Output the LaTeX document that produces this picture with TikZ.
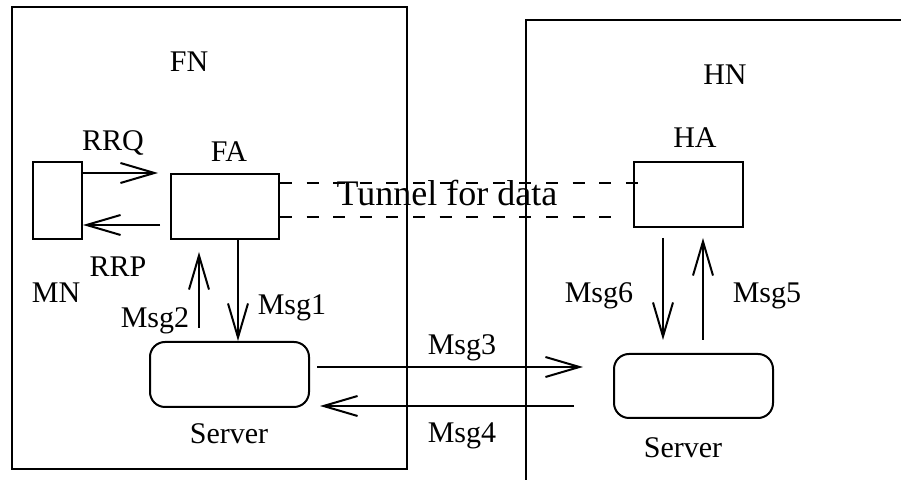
\documentclass[tikz,border=0pt]{standalone}
\usepackage{fontspec}
\setmainfont{Liberation Serif}
\usetikzlibrary{arrows.meta}
\begin{document}
\begin{tikzpicture}[x=0.5pt,y=-0.5pt,
  box/.style={draw, line width=1pt, inner sep=0pt, anchor=north west},
  srv/.style={box, rounded corners=7.5pt},
  lbl/.style={font=\fontsize{15}{18}\selectfont, inner sep=0pt, anchor=base},
  msg/.style={line width=1pt, -{Straight Barb[length=17pt,width=10pt,line width=1pt]}},
  tunnel/.style={line width=1pt, dash pattern=on 6pt off 7.3pt},
  region/.style={draw, line width=1.1pt}]
\useasboundingbox (0,0) rectangle (901,480);

% network regions
\node[box, region, minimum width=197.5pt, minimum height=231pt] (FNbox) at (11,6) {};
\begin{scope}
  \clip (0,0) rectangle (901,480);
  \node[box, region, minimum width=200pt, minimum height=240pt] (HNbox) at (525,19) {};
\end{scope}

% entities
\node[box, minimum width=24.5pt, minimum height=38.5pt] (MN) at (32,161) {};
\node[box, minimum width=54pt, minimum height=32.5pt] (FA) at (170,173) {};
\node[box, minimum width=54.5pt, minimum height=32.5pt] (HA) at (633,161) {};
\node[srv, minimum width=79.5pt, minimum height=32.5pt] (S1) at (149,341) {};
\node[srv, minimum width=79.5pt, minimum height=32pt] (S2) at (613,353) {};

% labels
\node[lbl] (lFN) at (189,72) {FN};
\node[lbl] (lHN) at (725,85) {HN};
\node[lbl] (lRRQ) at (113,151) {RRQ};
\node[lbl] (lFA) at (229,162) {FA};
\node[lbl] (lHA) at (695,148) {HA};
\node[lbl] (lMN) at (56,303) {MN};
\node[lbl] (lRRP) at (118,277) {RRP};
\node[lbl] (lM2) at (155,328) {Msg2};
\node[lbl] (lM1) at (292,315) {Msg1};
\node[lbl] (lM3) at (462,355) {Msg3};
\node[lbl] (lM4) at (462,443) {Msg4};
\node[lbl] (lM6) at (599,303) {Msg6};
\node[lbl] (lM5) at (767,303) {Msg5};
\node[lbl] (lS1) at (229,444) {Server};
\node[lbl] (lS2) at (683,458) {Server};

% connector end points
\coordinate (rrq) at (158,173);
\coordinate (rrp) at (160,225);
\coordinate (m1) at (238,0);
\coordinate (m2a) at (199,328);
\coordinate (m2b) at (199,252);
\coordinate (m3a) at (317,367);
\coordinate (m3b) at (583,367);
\coordinate (m4a) at (574,406);
\coordinate (m4b) at (320,406);
\coordinate (m6a) at (663,238);
\coordinate (m6b) at (663,340);
\coordinate (m5a) at (703,340);
\coordinate (m5b) at (703,238);
\coordinate (t1) at (639,183);
\coordinate (t2) at (617,217);

% registration messages
\draw[msg] (MN.east |- rrq) -- (rrq);
\draw[msg] (rrp) -- (MN.east |- rrp);
\draw[msg] (FA.south -| m1) -- (S1.north -| m1);
\draw[msg] (m2a) -- (m2b);
\draw[msg] (m3a) -- (m3b);
\draw[msg] (m4a) -- (m4b);
\draw[msg] (m6a) -- (m6b);
\draw[msg] (m5a) -- (m5b);

% data tunnel
\draw[tunnel] (FA.east |- t1) -- (t1);
\draw[tunnel] (FA.east |- t2) -- (t2);
\node[lbl, font=\fontsize{18}{22}\selectfont] (lT) at (447,206) {Tunnel for data};
\end{tikzpicture}
\end{document}
